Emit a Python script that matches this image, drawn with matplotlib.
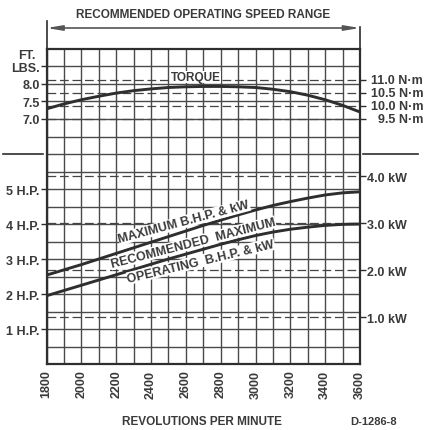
import matplotlib
matplotlib.use('Agg')
import matplotlib.pyplot as plt
import matplotlib.transforms as mtransforms

# engine speed, rpm
rpm = [1800, 1900, 2000, 2100, 2200, 2300, 2400, 2500, 2600, 2700,
       2800, 2900, 3000, 3100, 3200, 3300, 3400, 3500, 3600]
# torque, ft-lbs
torque = [7.29, 7.43, 7.55, 7.65, 7.74, 7.81, 7.86, 7.90, 7.92, 7.93,
          7.93, 7.92, 7.90, 7.85, 7.78, 7.68, 7.55, 7.39, 7.20]
# maximum b.h.p.
max_hp = [2.54, 2.69, 2.84, 3.00, 3.16, 3.32, 3.48, 3.64, 3.80, 3.96,
          4.11, 4.26, 4.40, 4.53, 4.64, 4.74, 4.83, 4.89, 4.92]
# recommended maximum operating b.h.p.
oper_hp = [1.95, 2.10, 2.25, 2.40, 2.55, 2.70, 2.85, 3.00, 3.14, 3.28,
           3.42, 3.55, 3.67, 3.77, 3.85, 3.91, 3.96, 3.99, 4.00]

hp_ticks = [1, 2, 3, 4, 5]
lbft_ticks = [7.0, 7.5, 8.0]
nm_marks = [11.0, 10.5, 10.0, 9.5]
kw_marks = [4.0, 3.0, 2.0, 1.0]
rpm_labels = list(range(1800, 3601, 200))

NM_PER_LBFT = 1.35582
KW_PER_HP = 0.7457

ink = '#2e2e2e'
txt = '#3a3a3a'
grid_c = '#4a4a4a'
plt.rcParams['font.family'] = ['Liberation Sans', 'DejaVu Sans']

fig = plt.figure(figsize=(4.24, 4.31), dpi=100)
ax = fig.add_axes([0.1097, 0.1531, 0.7394, 0.7309])
ax.set_xlim(1800, 3600)
ax.set_ylim(0, 9)

# square grid: every 100 rpm, every half unit
for x in rpm:
    ax.axvline(x, color=grid_c, lw=1.0, zorder=1)
for i in range(1, 18):
    ax.axhline(i * 0.5, color=grid_c, lw=1.0, zorder=1)

# metric reference lines
for nm in nm_marks:
    ax.axhline(nm / NM_PER_LBFT, color='#444', lw=0.9, ls=(0, (7, 3)), zorder=2)
for kw in kw_marks:
    ax.axhline(kw / KW_PER_HP, color='#444', lw=0.9, ls=(0, (7, 3)), zorder=2)

ax.plot(rpm, torque, color=ink, lw=2.1, zorder=4)
ax.plot(rpm, max_hp, color=ink, lw=2.1, zorder=4)
ax.plot(rpm, oper_hp, color=ink, lw=2.1, zorder=4)

for s in ax.spines.values():
    s.set_linewidth(1.6)
    s.set_color(ink)

# bottom axis
ax.set_xticks(rpm_labels)
ax.set_xticklabels([str(r) for r in rpm_labels], rotation=90,
                   fontsize=9, fontweight='bold', color=txt)
ax.tick_params(axis='x', length=0, pad=4)

# left axis: h.p. and ft-lbs
ax.set_yticks(hp_ticks + lbft_ticks + [8.5])
ax.set_yticklabels([f'{h} H.P.' for h in hp_ticks] +
                   [f'{t:.1f}' for t in lbft_ticks] + ['LBS.'],
                   fontsize=9, fontweight='bold', color=txt)
ax.tick_params(axis='y', length=4, width=1, color=ink, pad=1)

left_tf = mtransforms.blended_transform_factory(ax.transAxes, ax.transData)
ax.annotate('FT.', xy=(0, 8.5), xycoords=left_tf, xytext=(-14, 8.6),
            textcoords='offset points', ha='center', va='center',
            fontsize=9, fontweight='bold', color=txt)

# right axis: kW and N-m
ax2 = ax.twinx()
ax2.set_ylim(0, 9)
kw_pos = [k / KW_PER_HP for k in kw_marks]
nm_pos = [n / NM_PER_LBFT for n in nm_marks]
ax2.set_yticks(kw_pos + nm_pos)
ax2.set_yticklabels([f'{k:.1f} kW' for k in kw_marks] + [''] * len(nm_marks),
                    fontsize=9, fontweight='bold', color=txt)
ax2.tick_params(axis='y', length=4, width=1, color=ink, pad=1)
for s in ax2.spines.values():
    s.set_visible(False)

fig_tf = mtransforms.blended_transform_factory(fig.transFigure, ax.transData)
for n, y in zip(nm_marks, nm_pos):
    ax.text(0.998, y, f'{n:.1f} N\u00b7m', transform=fig_tf, ha='right',
            va='center', fontsize=9, fontweight='bold', color=txt,
            clip_on=False)

# divider between torque and power sections
ax.plot([-0.139, -0.011], [6, 6], transform=left_tf, color=ink, lw=1.2,
        clip_on=False)
ax.plot([1.0096, 1.185], [6, 6], transform=left_tf, color=ink, lw=1.2,
        clip_on=False)

# curve captions
box = dict(facecolor='white', edgecolor='none', pad=0.3)
cap = dict(ha='center', va='center', fontsize=9, fontweight='bold',
           color=txt, bbox=box, zorder=5, rotation_mode='anchor')
ax.text(2658, 8.2, 'TORQUE', ha='center', va='center', fontsize=8.5,
        fontweight='bold', color=txt, bbox=box, zorder=5)
ax.text(2589, 4.06, 'MAXIMUM B.H.P. & kW', rotation=15, **cap)
ax.text(2641, 3.46, 'RECOMMENDED  MAXIMUM', rotation=14.5, **cap)
ax.text(2687, 2.94, 'OPERATING  B.H.P. & kW', rotation=13.5, **cap)

# recommended speed range bracket
ax.annotate('', xy=(3600, 9.6), xytext=(1800, 9.6), xycoords='data',
            arrowprops=dict(arrowstyle='<|-|>,head_length=0.9,head_width=0.15',
                            color='#555', lw=1.2, shrinkA=0, shrinkB=0),
            annotation_clip=False)
ax.plot([1800, 1800], [9, 9.81], color=ink, lw=1.2, clip_on=False)
ax.plot([3600, 3600], [9, 9.63], color=ink, lw=1.2, clip_on=False)

fig.text(0.48, 0.965, 'RECOMMENDED OPERATING SPEED RANGE', ha='center',
         va='center', fontsize=8.5, fontweight='bold', color=txt)
fig.text(0.476, 0.021, 'REVOLUTIONS PER MINUTE', ha='center', va='center',
         fontsize=8.5, fontweight='bold', color=txt)
fig.text(0.882, 0.021, 'D-1286-8', ha='center', va='center', fontsize=8,
         fontweight='bold', color=txt)

fig.savefig('out.png', dpi=100, facecolor='white')
